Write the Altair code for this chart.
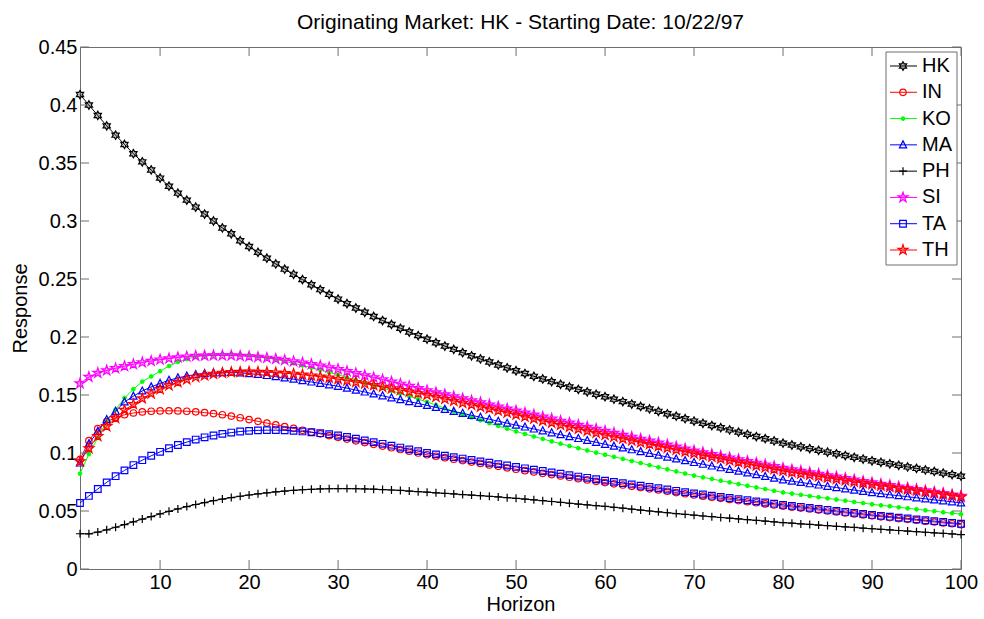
import altair as alt
import pandas as pd

horizon = list(range(1, 101))
series = ["HK", "IN", "KO", "MA", "PH", "SI", "TA", "TH"]
x_ticks = [10, 20, 30, 40, 50, 60, 70, 80, 90, 100]
y_ticks = [0, 0.05, 0.1, 0.15, 0.2, 0.25, 0.3, 0.35, 0.4, 0.45]

hk = [0.409, 0.400, 0.391, 0.382, 0.374, 0.366, 0.358, 0.351, 0.344, 0.337,
      0.330, 0.324, 0.318, 0.312, 0.306, 0.300, 0.294, 0.289, 0.283, 0.278,
      0.273, 0.268, 0.263, 0.2585, 0.254, 0.2495, 0.245, 0.2408, 0.2367, 0.2327,
      0.2288, 0.2250, 0.2213, 0.2177, 0.2142, 0.2108, 0.2075, 0.2043, 0.2012, 0.1981,
      0.1951, 0.1922, 0.1893, 0.1865, 0.1838, 0.1811, 0.1785, 0.1759, 0.1734, 0.1709,
      0.1685, 0.1661, 0.1638, 0.1615, 0.1592, 0.1570, 0.1548, 0.1527, 0.1506, 0.1485,
      0.1464, 0.1443, 0.1422, 0.1401, 0.1380, 0.1359, 0.1338, 0.1317, 0.1296, 0.1275,
      0.1256, 0.1237, 0.1218, 0.1199, 0.1180, 0.1161, 0.1142, 0.1123, 0.1104, 0.1085,
      0.1069, 0.1053, 0.1038, 0.1023, 0.1008, 0.0993, 0.0978, 0.0963, 0.0948, 0.0933,
      0.0920, 0.0907, 0.0894, 0.0880, 0.0867, 0.0854, 0.0841, 0.0827, 0.0814, 0.0800]

in_ = [0.0943, 0.1106, 0.1210, 0.1270, 0.1305, 0.1330, 0.1345, 0.1354, 0.1360, 0.1363,
       0.1364, 0.1363, 0.1360, 0.1355, 0.1348, 0.1340, 0.1330, 0.1318, 0.1304, 0.1288,
       0.1273, 0.1258, 0.1243, 0.1228, 0.1212, 0.1196, 0.1180, 0.1165, 0.1150, 0.1135,
       0.1120, 0.1105, 0.1090, 0.1075, 0.1060, 0.1045, 0.1030, 0.1015, 0.1000, 0.0985,
       0.0972, 0.0960, 0.0947, 0.0935, 0.0922, 0.0910, 0.0897, 0.0885, 0.0872, 0.0860,
       0.0848, 0.0837, 0.0825, 0.0814, 0.0802, 0.0791, 0.0779, 0.0768, 0.0756, 0.0745,
       0.0734, 0.0724, 0.0713, 0.0702, 0.0691, 0.0681, 0.0670, 0.0659, 0.0649, 0.0638,
       0.0628, 0.0619, 0.0609, 0.0600, 0.0590, 0.0580, 0.0571, 0.0561, 0.0552, 0.0542,
       0.0534, 0.0525, 0.0517, 0.0508, 0.0500, 0.0492, 0.0483, 0.0475, 0.0466, 0.0458,
       0.0450, 0.0443, 0.0435, 0.0428, 0.0420, 0.0412, 0.0405, 0.0397, 0.0390, 0.0382]

ko = [0.0822, 0.0990, 0.1130, 0.1270, 0.1374, 0.1474, 0.1550, 0.1615, 0.1660, 0.1705,
      0.1750, 0.1785, 0.1810, 0.1830, 0.1840, 0.1848, 0.1853, 0.1854, 0.1850, 0.1843,
      0.1833, 0.1820, 0.1806, 0.1790, 0.1773, 0.1755, 0.1736, 0.1716, 0.1695, 0.1674,
      0.1652, 0.1630, 0.1607, 0.1584, 0.1561, 0.1537, 0.1513, 0.1489, 0.1464, 0.1440,
      0.1413, 0.1386, 0.1359, 0.1333, 0.1307, 0.1282, 0.1257, 0.1233, 0.1209, 0.1186,
      0.1164, 0.1142, 0.1121, 0.1100, 0.1080, 0.1060, 0.1041, 0.1022, 0.1003, 0.0985,
      0.0967, 0.0949, 0.0931, 0.0913, 0.0895, 0.0877, 0.0859, 0.0841, 0.0823, 0.0805,
      0.0790, 0.0776, 0.0761, 0.0747, 0.0732, 0.0718, 0.0703, 0.0689, 0.0674, 0.0660,
      0.0650, 0.0640, 0.0629, 0.0619, 0.0609, 0.0599, 0.0589, 0.0578, 0.0568, 0.0558,
      0.0549, 0.0541, 0.0532, 0.0523, 0.0515, 0.0506, 0.0498, 0.0489, 0.0481, 0.0472]

ma = [0.0914, 0.1080, 0.1187, 0.1288, 0.1360, 0.1440, 0.1490, 0.1535, 0.1570, 0.1600,
      0.1627, 0.1648, 0.1664, 0.1676, 0.1685, 0.1690, 0.1693, 0.1694, 0.1691, 0.1685,
      0.1677, 0.1668, 0.1658, 0.1647, 0.1636, 0.1624, 0.1612, 0.1600, 0.1588, 0.1575,
      0.1559, 0.1542, 0.1526, 0.1509, 0.1493, 0.1476, 0.1460, 0.1443, 0.1427, 0.1410,
      0.1393, 0.1376, 0.1359, 0.1342, 0.1325, 0.1308, 0.1291, 0.1274, 0.1257, 0.1240,
      0.1224, 0.1207, 0.1191, 0.1174, 0.1158, 0.1141, 0.1125, 0.1108, 0.1092, 0.1075,
      0.1059, 0.1044, 0.1028, 0.1012, 0.0997, 0.0981, 0.0965, 0.0949, 0.0934, 0.0918,
      0.0903, 0.0888, 0.0873, 0.0858, 0.0843, 0.0828, 0.0813, 0.0798, 0.0783, 0.0768,
      0.0757, 0.0746, 0.0735, 0.0724, 0.0713, 0.0702, 0.0691, 0.0680, 0.0669, 0.0658,
      0.0649, 0.0640, 0.0632, 0.0623, 0.0614, 0.0605, 0.0596, 0.0588, 0.0579, 0.0570]

ph = [0.0304, 0.0303, 0.0318, 0.0338, 0.0360, 0.0383, 0.0407, 0.0430, 0.0452, 0.0475,
      0.0497, 0.0518, 0.0538, 0.0556, 0.0573, 0.0589, 0.0603, 0.0616, 0.0627, 0.0638,
      0.0648, 0.0657, 0.0665, 0.0672, 0.0678, 0.0683, 0.0687, 0.0690, 0.0692, 0.0693,
      0.0693, 0.0692, 0.0690, 0.0688, 0.0685, 0.0681, 0.0677, 0.0672, 0.0667, 0.0662,
      0.0657, 0.0652, 0.0647, 0.0642, 0.0637, 0.0632, 0.0627, 0.0621, 0.0615, 0.0609,
      0.0603, 0.0596, 0.0589, 0.0582, 0.0575, 0.0567, 0.0560, 0.0553, 0.0546, 0.0540,
      0.0532, 0.0524, 0.0516, 0.0508, 0.0500, 0.0493, 0.0485, 0.0478, 0.0471, 0.0464,
      0.0457, 0.0451, 0.0444, 0.0438, 0.0432, 0.0425, 0.0419, 0.0413, 0.0406, 0.0400,
      0.0395, 0.0389, 0.0384, 0.0379, 0.0374, 0.0368, 0.0363, 0.0358, 0.0352, 0.0347,
      0.0342, 0.0337, 0.0332, 0.0327, 0.0322, 0.0317, 0.0312, 0.0307, 0.0302, 0.0297]

si = [0.1600, 0.1655, 0.1690, 0.1712, 0.1730, 0.1748, 0.1765, 0.1780, 0.1793, 0.1805,
      0.1815, 0.1824, 0.1831, 0.1836, 0.1839, 0.1841, 0.1841, 0.1840, 0.1837, 0.1833,
      0.1827, 0.1820, 0.1811, 0.1801, 0.1790, 0.1778, 0.1765, 0.1752, 0.1738, 0.1723,
      0.1705, 0.1687, 0.1669, 0.1651, 0.1633, 0.1614, 0.1596, 0.1577, 0.1559, 0.1540,
      0.1522, 0.1505, 0.1487, 0.1470, 0.1452, 0.1435, 0.1417, 0.1400, 0.1382, 0.1365,
      0.1347, 0.1330, 0.1312, 0.1295, 0.1277, 0.1260, 0.1242, 0.1225, 0.1207, 0.1190,
      0.1173, 0.1156, 0.1139, 0.1122, 0.1105, 0.1088, 0.1071, 0.1054, 0.1037, 0.1020,
      0.1005, 0.0990, 0.0975, 0.0960, 0.0945, 0.0930, 0.0915, 0.0900, 0.0885, 0.0870,
      0.0857, 0.0845, 0.0832, 0.0820, 0.0807, 0.0795, 0.0782, 0.0770, 0.0757, 0.0745,
      0.0733, 0.0722, 0.0710, 0.0699, 0.0687, 0.0676, 0.0664, 0.0653, 0.0641, 0.0630]

ta = [0.0569, 0.0630, 0.0690, 0.0747, 0.0800, 0.0850, 0.0896, 0.0938, 0.0976, 0.1010,
      0.1041, 0.1069, 0.1094, 0.1116, 0.1135, 0.1151, 0.1165, 0.1176, 0.1185, 0.1191,
      0.1195, 0.1197, 0.1197, 0.1195, 0.1191, 0.1186, 0.1179, 0.1171, 0.1162, 0.1151,
      0.1138, 0.1124, 0.1109, 0.1094, 0.1079, 0.1063, 0.1047, 0.1031, 0.1016, 0.1000,
      0.0988, 0.0976, 0.0964, 0.0952, 0.0940, 0.0928, 0.0916, 0.0904, 0.0892, 0.0880,
      0.0868, 0.0856, 0.0845, 0.0833, 0.0821, 0.0809, 0.0797, 0.0786, 0.0774, 0.0762,
      0.0751, 0.0740, 0.0729, 0.0718, 0.0707, 0.0696, 0.0685, 0.0674, 0.0663, 0.0652,
      0.0642, 0.0632, 0.0622, 0.0612, 0.0602, 0.0593, 0.0583, 0.0573, 0.0563, 0.0553,
      0.0544, 0.0536, 0.0527, 0.0518, 0.0510, 0.0501, 0.0492, 0.0484, 0.0475, 0.0466,
      0.0458, 0.0451, 0.0443, 0.0436, 0.0428, 0.0420, 0.0413, 0.0405, 0.0398, 0.0390]

th = [0.0928, 0.1040, 0.1144, 0.1230, 0.1300, 0.1370, 0.1420, 0.1470, 0.1512, 0.1550,
      0.1582, 0.1610, 0.1634, 0.1654, 0.1669, 0.1681, 0.1690, 0.1696, 0.1699, 0.1700,
      0.1699, 0.1697, 0.1693, 0.1688, 0.1682, 0.1675, 0.1667, 0.1658, 0.1648, 0.1637,
      0.1624, 0.1611, 0.1598, 0.1584, 0.1570, 0.1556, 0.1542, 0.1528, 0.1514, 0.1500,
      0.1483, 0.1466, 0.1449, 0.1432, 0.1415, 0.1398, 0.1381, 0.1364, 0.1347, 0.1330,
      0.1312, 0.1295, 0.1277, 0.1260, 0.1242, 0.1225, 0.1207, 0.1190, 0.1172, 0.1155,
      0.1139, 0.1123, 0.1107, 0.1091, 0.1075, 0.1059, 0.1043, 0.1027, 0.1011, 0.0995,
      0.0980, 0.0965, 0.0950, 0.0935, 0.0920, 0.0905, 0.0890, 0.0875, 0.0860, 0.0845,
      0.0833, 0.0822, 0.0810, 0.0798, 0.0787, 0.0775, 0.0763, 0.0751, 0.0740, 0.0728,
      0.0717, 0.0707, 0.0696, 0.0686, 0.0675, 0.0664, 0.0654, 0.0643, 0.0633, 0.0622]

values = {"HK": hk, "IN": in_, "KO": ko, "MA": ma, "PH": ph, "SI": si, "TA": ta, "TH": th}
colors = ["#000000", "#ff0000", "#00ff00", "#0000ff", "#000000", "#ff00ff", "#0000ff", "#ff0000"]

HEXAGRAM = ("M0,-1L0.2887,-0.5L0.866,-0.5L0.577,0L0.866,0.5L0.2887,0.5L0,1"
            "L-0.2887,0.5L-0.866,0.5L-0.577,0L-0.866,-0.5L-0.2887,-0.5Z")
PENTAGRAM = ("M0,-1L0.2245,-0.309L0.9511,-0.309L0.3633,0.118L0.5878,0.809L0,0.382"
             "L-0.5878,0.809L-0.3633,0.118L-0.9511,-0.309L-0.2245,-0.309Z")
PLUS = "M-1,0H1M0,-1V1"
TRI = "M0,-1L0.9,0.75L-0.9,0.75Z"
# shape, size, fill opacity (0 = hollow)
marker = {
    "HK": dict(shape=HEXAGRAM, size=70, fo=0.25),
    "IN": dict(shape="circle", size=42, fo=0.0),
    "KO": dict(shape="circle", size=14, fo=1.0),
    "MA": dict(shape=TRI, size=64, fo=0.0),
    "PH": dict(shape=PLUS, size=64, fo=0.0),
    "SI": dict(shape=PENTAGRAM, size=110, fo=0.35),
    "TA": dict(shape="square", size=44, fo=0.0),
    "TH": dict(shape=PENTAGRAM, size=110, fo=0.35),
}

rows = []
for s in series:
    for h, v in zip(horizon, values[s]):
        rows.append({"series": s, "h": h, "v": v})
df = pd.DataFrame(rows)

W, H = 881, 522
FONT = "Liberation Sans"
FS = 20
AX = "#6e6e6e"
TL = 9
MSW = 1.2

xs = alt.Scale(domain=[1, 100], nice=False, zero=False)
ys = alt.Scale(domain=[0, 0.45], nice=False, zero=False)

axis_x = alt.Axis(values=x_ticks, format="d", labelFontSize=FS, labelFont=FONT,
                  labelColor="black", ticks=False, domain=False, grid=False,
                  labelPadding=3, labelFlush=False, labelOverlap=False,
                  title="Horizon", titleFont=FONT, titleFontSize=FS,
                  titleFontWeight="normal", titleColor="black", titlePadding=2)
axis_y = alt.Axis(values=y_ticks, format=".2~f", labelFontSize=FS, labelFont=FONT,
                  labelColor="black", ticks=False, domain=False, grid=False,
                  labelPadding=3, labelFlush=False, labelOverlap=False,
                  title="Response", titleFont=FONT, titleFontSize=FS,
                  titleFontWeight="normal", titleColor="black", titlePadding=8)


def xenc(field):
    return alt.X(field, scale=xs, axis=axis_x)


def point_mark(chart, s, c):
    m = marker[s]
    if m["fo"] > 0:
        return chart.mark_point(shape=m["shape"], size=m["size"], filled=False, fill=c,
                                fillOpacity=m["fo"], stroke=c,
                                strokeWidth=1 if m["fo"] == 1.0 else MSW, opacity=1)
    return chart.mark_point(shape=m["shape"], size=m["size"], filled=False,
                            stroke=c, strokeWidth=MSW, opacity=1)


layers = []
base = alt.Chart(df)
for i, s in enumerate(series):
    c = colors[i]
    d = base.transform_filter(alt.datum.series == s)
    yenc = alt.Y("v:Q", scale=ys, axis=axis_y if i == 0 else None)
    layers.append(d.mark_line(color=c, strokeWidth=1).encode(x=xenc("h:Q"), y=yenc))
    layers.append(point_mark(d, s, c).encode(
        x=xenc("h:Q"), y=alt.Y("v:Q", scale=ys, axis=None)))

# inward ticks on all four sides
xt = alt.Chart(pd.DataFrame({"h": x_ticks}))
yt = alt.Chart(pd.DataFrame({"t": y_ticks}))
layers.append(xt.mark_rule(color=AX, strokeWidth=1).encode(
    x=xenc("h:Q"), y=alt.value(H), y2=alt.value(H - TL)))
layers.append(xt.mark_rule(color=AX, strokeWidth=1).encode(
    x=xenc("h:Q"), y=alt.value(0), y2=alt.value(TL)))
layers.append(yt.mark_rule(color=AX, strokeWidth=1).encode(
    y=alt.Y("t:Q", scale=ys, axis=None), x=alt.value(0), x2=alt.value(TL)))
layers.append(yt.mark_rule(color=AX, strokeWidth=1).encode(
    y=alt.Y("t:Q", scale=ys, axis=None), x=alt.value(W), x2=alt.value(W - TL)))

# legend
leg = alt.Chart(pd.DataFrame({"series": series}))
ly = alt.Y("series:N", scale=alt.Scale(type="point", domain=series, range=[19, 203], padding=0),
           axis=None)
layers.append(alt.Chart(pd.DataFrame({"a": [0]})).mark_rect(
    fill="white", stroke=AX, strokeWidth=1).encode(
    x=alt.value(806), x2=alt.value(877), y=alt.value(5), y2=alt.value(218)))
layers.append(leg.mark_rule(strokeWidth=1).encode(
    x=alt.value(810), x2=alt.value(837), y=ly,
    color=alt.Color("series:N", scale=alt.Scale(domain=series, range=colors), legend=None)))
for i, s in enumerate(series):
    dl = leg.transform_filter(alt.datum.series == s)
    layers.append(point_mark(dl, s, colors[i]).encode(x=alt.value(823), y=ly))
layers.append(leg.mark_text(align="left", baseline="middle", font=FONT, fontSize=FS,
                            color="black").encode(x=alt.value(842), y=ly, text="series:N"))

chart = alt.layer(*layers).resolve_scale(y="independent").properties(
    width=W, height=H,
    title=alt.TitleParams("Originating Market: HK - Starting Date: 10/22/97",
                          font=FONT, fontSize=21, fontWeight="normal", color="black",
                          anchor="middle", offset=4),
    autosize=alt.AutoSizeParams(type="none"),
    padding={"left": 80, "top": 47, "right": 23, "bottom": 50},
    background="white",
).configure_view(stroke=AX, strokeWidth=1)

chart.save("out.html", embed_options={"renderer": "svg", "actions": False})
